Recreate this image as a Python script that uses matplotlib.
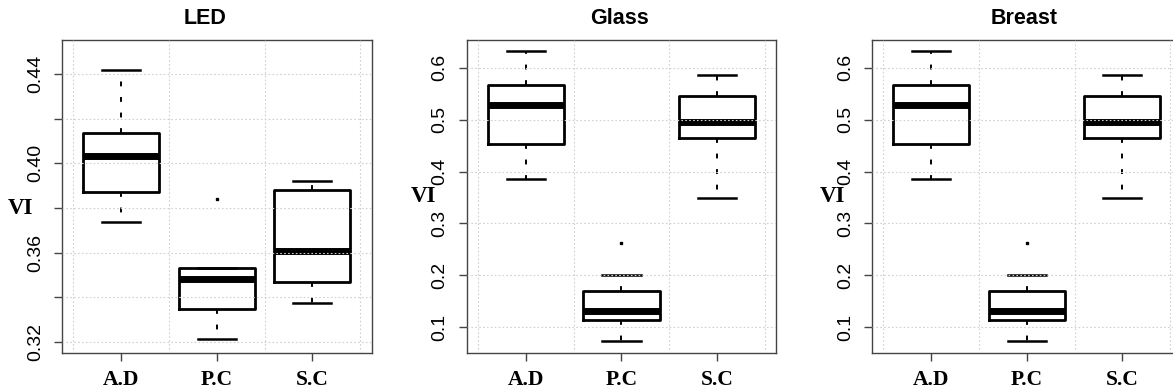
import matplotlib
matplotlib.use("Agg")
import matplotlib.pyplot as plt

categories = ["A.D", "P.C", "S.C"]

# LED panel: whisker low, Q1, median, Q3, whisker high, outliers
led_lo = [0.3738, 0.3215, 0.3376]
led_q1 = [0.3870, 0.3346, 0.3467]
led_med = [0.4033, 0.3483, 0.3609]
led_q3 = [0.4134, 0.3530, 0.3882]
led_hi = [0.4418, 0.3530, 0.3921]
led_out = [[], [0.3842], []]

# Glass panel
glass_lo = [0.3855, 0.073, 0.3495]
glass_q1 = [0.453, 0.114, 0.465]
glass_med = [0.5275, 0.132, 0.495]
glass_q3 = [0.5667, 0.170, 0.546]
glass_hi = [0.6316, 0.200, 0.5865]
glass_out = [[], [0.263], []]

# Breast panel
breast_lo = [0.3855, 0.073, 0.3495]
breast_q1 = [0.453, 0.114, 0.465]
breast_med = [0.5275, 0.132, 0.495]
breast_q3 = [0.5667, 0.170, 0.546]
breast_hi = [0.6316, 0.200, 0.5865]
breast_out = [[], [0.263], []]

led_ticks = [0.32, 0.34, 0.36, 0.38, 0.40, 0.42, 0.44]
led_ticklabels = ["0.32", "", "0.36", "", "0.40", "", "0.44"]
glass_ticks = [0.1, 0.2, 0.3, 0.4, 0.5, 0.6]
glass_ticklabels = ["0.1", "0.2", "0.3", "0.4", "0.5", "0.6"]

panels = [
    ("LED", led_lo, led_q1, led_med, led_q3, led_hi, led_out,
     led_ticks, led_ticklabels, (0.3151, 0.4552)),
    ("Glass", glass_lo, glass_q1, glass_med, glass_q3, glass_hi, glass_out,
     glass_ticks, glass_ticklabels, (0.0505, 0.6533)),
    ("Breast", breast_lo, breast_q1, breast_med, breast_q3, breast_hi, breast_out,
     glass_ticks, glass_ticklabels, (0.0505, 0.6533)),
]

W, H = 1173, 392
fig = plt.figure(figsize=(W / 100, H / 100), dpi=100)

lefts = [62, 466.7, 872]
title_x = [205, 619, 1024]
vi_x = [20, 423, 832]
vi_y = [208, 197, 197]

for i, (name, lo, q1, med, q3, hi, out, yt, ytl, ylim) in enumerate(panels):
    ax = fig.add_axes([lefts[i] / W, (H - 353) / H, 309.5 / W, 313 / H])
    stats = []
    for j, cat in enumerate(categories):
        stats.append(dict(label=cat, whislo=lo[j], q1=q1[j], med=med[j],
                          q3=q3[j], whishi=hi[j], fliers=out[j]))
    ax.bxp(stats, positions=[1, 2, 3], widths=0.8, capwidths=0.4,
           showfliers=True,
           boxprops=dict(color="black", linewidth=2.0),
           medianprops=dict(color="black", linewidth=5.0, solid_capstyle="butt"),
           whiskerprops=dict(color="black", linewidth=1.4, linestyle=(0, (2.5, 5.5))),
           capprops=dict(color="black", linewidth=1.8),
           flierprops=dict(marker="s", markersize=2.0, markerfacecolor="black",
                           markeredgecolor="black"))
    ax.set_xlim(0.38, 3.62)
    ax.set_ylim(*ylim)
    ax.set_xticks([1, 2, 3])
    ax.set_xticklabels(categories, family="Liberation Serif", fontweight="bold",
                       fontsize=15.5)
    ax.set_xticks([0.5, 1.5, 2.5, 3.5], minor=True)
    ax.set_yticks(yt)
    ax.set_yticklabels(ytl, rotation=90, family="Liberation Sans", fontsize=14,
                       va="center")
    ax.tick_params(axis="x", which="major", direction="out", length=6, width=1,
                   color="#444444", pad=6)
    ax.tick_params(axis="x", which="minor", length=0)
    ax.tick_params(axis="y", direction="out", length=6, width=1,
                   color="#444444", pad=7)
    ax.set_axisbelow(False)
    ax.grid(True, axis="y", which="major", color="#d0d0d0", linestyle=(0, (1.5, 2)),
            linewidth=0.8)
    ax.grid(True, axis="x", which="minor", color="#d0d0d0", linestyle=(0, (1.5, 2)),
            linewidth=0.8)
    for sp in ax.spines.values():
        sp.set_color("#444444")
        sp.set_linewidth(1.0)

    fig.text(title_x[i] / W, 1 - 18 / H, name, ha="center", va="center",
             family="Liberation Sans", fontweight="bold", fontsize=15.5)
    fig.text(vi_x[i] / W, 1 - vi_y[i] / H, "VI", ha="center", va="center",
             family="Liberation Serif", fontweight="bold", fontsize=16.5)

fig.savefig("out.png", dpi=100)
